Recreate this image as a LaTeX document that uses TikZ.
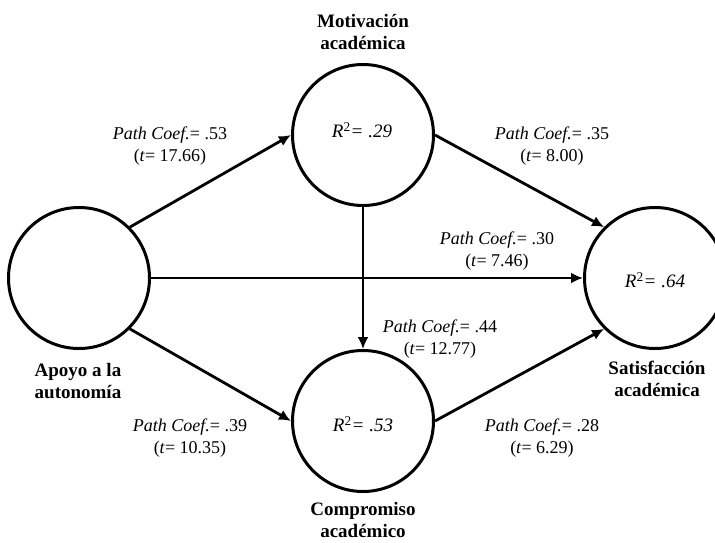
\documentclass[tikz,border=0pt]{standalone}
\usepackage{fontspec}
\setmainfont{Liberation Serif}
\usetikzlibrary{arrows.meta}
\begin{document}
\begin{tikzpicture}[x=1pt,y=-1pt,
  latent/.style={circle, draw, line width=3pt, minimum size=141pt, inner sep=0pt},
  conn/.style={line width=2.8pt, -{Latex[length=12pt,width=11pt]}},
  lbl/.style={font=\fontsize{18}{22}\selectfont, align=center, inner sep=0pt},
  rsq/.style={font=\fontsize{19}{22}\selectfont, inner sep=0pt},
  vname/.style={font=\bfseries\fontsize{19}{22}\selectfont, align=center, inner sep=0pt}
]
\clip (0,0) rectangle (715,542);
\fill[white] (0,0) rectangle (715,542);

\node[latent] (L) at (79,278) {};
\node[latent] (T) at (363,135) {};
\node[latent] (B) at (363,421) {};
\node[latent] (R) at (655,278) {};

\node[rsq] (rT) at (362,130) {\textit{R}\textsuperscript{2}\textit{= .29}};
\node[rsq] (rB) at (363,424) {\textit{R}\textsuperscript{2}\textit{= .53}};
\node[rsq] (rR) at (655,280) {\textit{R}\textsuperscript{2}\textit{= .64}};

\node[vname] (nT) at (363,32) {Motivación\\académica};
\node[vname] (nB) at (363,520) {Compromiso\\académico};
\node[vname] (nL) at (78,381) {Apoyo a la\\autonomía};
\node[vname] (nR) at (657,379) {Satisfacción\\académica};

\draw[conn] (L.45) -- (T.west);
\draw[conn] (T.east) -- (R.135);
\draw[conn] (L.east) -- (R.west);
\draw[conn, line width=2.3pt] (T.south) -- (B.north);
\draw[conn] (L.-45) -- (B.west);
\draw[conn] (B.east) -- (R.225);

\node[lbl] (p1) at (170,146) {\textit{Path Coef.}= .53\\(\textit{t}= 17.66)};
\node[lbl] (p2) at (552,146) {\textit{Path Coef.}= .35\\(\textit{t}= 8.00)};
\node[lbl] (p3) at (497,251) {\textit{Path Coef.}= .30\\(\textit{t}= 7.46)};
\node[lbl] (p4) at (440,339) {\textit{Path Coef.}= .44\\(\textit{t}= 12.77)};
\node[lbl] (p5) at (190,438) {\textit{Path Coef.}= .39\\(\textit{t}= 10.35)};
\node[lbl] (p6) at (542,438) {\textit{Path Coef.}= .28\\(\textit{t}= 6.29)};
\end{tikzpicture}
\end{document}
